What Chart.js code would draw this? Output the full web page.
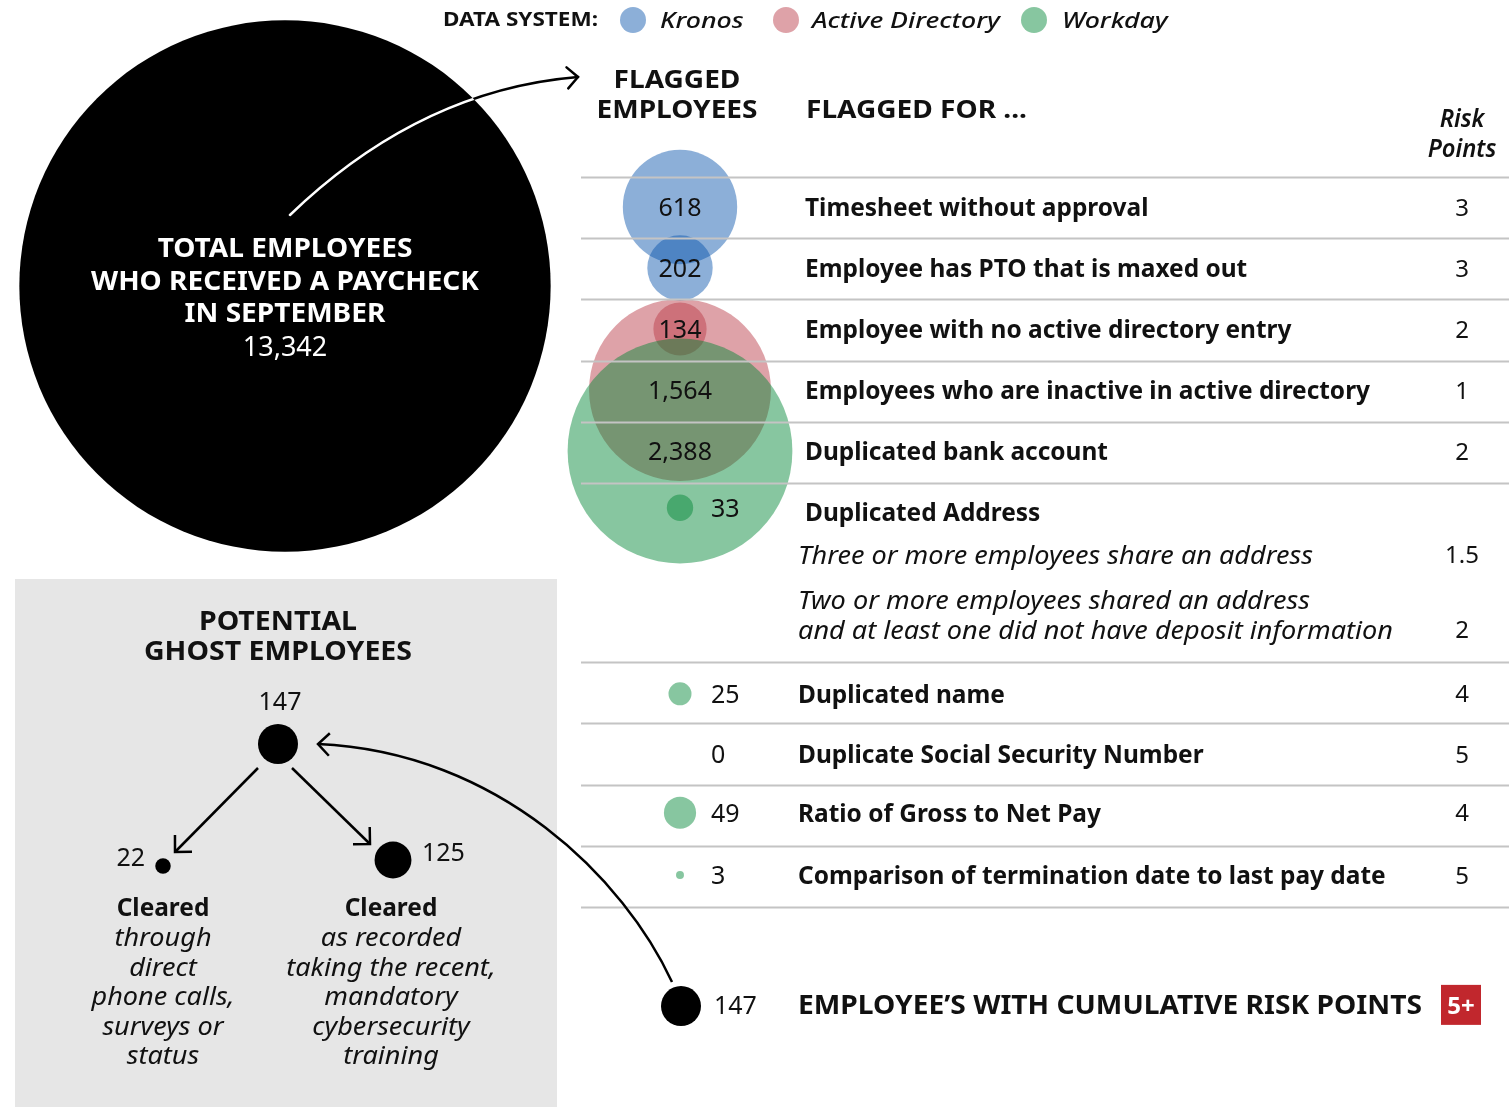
<!DOCTYPE html>
<html>
<head>
<meta charset="utf-8">
<script src="https://cdn.jsdelivr.net/npm/chart.js@4.4.1/dist/chart.umd.min.js"></script>
<style>
  html, body { margin: 0; padding: 0; background: #fff; }
  #wrap { width: 1509px; height: 1107px; position: relative; }
</style>
</head>
<body>
<div id="wrap"><canvas id="chart"></canvas></div>
<script>
// ---- data ----
const systems = ['Kronos', 'Active Directory', 'Workday'];
const flagCategories = [
  'Timesheet without approval',
  'Employee has PTO that is maxed out',
  'Employee with no active directory entry',
  'Employees who are inactive in active directory',
  'Duplicated bank account',
  'Duplicated Address',
  'Duplicated name',
  'Duplicate Social Security Number',
  'Ratio of Gross to Net Pay',
  'Comparison of termination date to last pay date'
];
const flagCounts = [618, 202, 134, 1564, 2388, 33, 25, 0, 49, 3];
const flagSystems = ['Kronos', 'Kronos', 'Active Directory', 'Active Directory', 'Workday', 'Workday', 'Workday', 'Workday', 'Workday', 'Workday'];
const riskPoints = [3, 3, 2, 1, 2, null, 4, 5, 4, 5];
const addressRules = [
  ['Three or more employees share an address'],
  ['Two or more employees shared an address', 'and at least one did not have deposit information']
];
const addressPoints = [1.5, 2];
const totalEmployees = 13342;
const totalLabel = ['TOTAL EMPLOYEES', 'WHO RECEIVED A PAYCHECK', 'IN SEPTEMBER'];
const ghostTotal = 147;
const ghostCleared = [22, 125];
const ghostNotes = [
  ['through', 'direct', 'phone calls,', 'surveys or', 'status'],
  ['as recorded', 'taking the recent,', 'mandatory', 'cybersecurity', 'training']
];
const cumulativeCount = 147;
const cumulativeLabel = 'EMPLOYEE\u2019S WITH CUMULATIVE RISK POINTS';
const cumulativeThreshold = '5+';

// ---- layout / style ----
const SANS = '"Noto Sans", "Open Sans", sans-serif';
const colors = {
  'Kronos': 'rgba(5, 80, 170, 0.46)',
  'Active Directory': 'rgba(185, 57, 70, 0.47)',
  'Workday': 'rgba(0, 134, 53, 0.47)'
};
const ROW_Y = [0, 1, 2, 3, 4, 4.93, 7.98, 8.97, 9.93, 10.95];
const SUB_Y = [[5.7], [6.44, 6.93]];
const RULE_Y = [-0.49, 0.51, 1.51, 2.52, 3.52, 4.52, 7.46, 8.46, 9.48, 10.48, 11.48];
const CUM_Y = 13.1;
const BUBBLE_X = 680;
const AREA_K = 2.3;    // px per sqrt(employee), flag bubbles
const GHOST_K = 1.65;  // px per sqrt(employee), black dots
const rad = (v, k) => k * Math.sqrt(v);

// bubbles from data
const systemSets = systems.map((s, si) => ({
  label: s,
  data: flagCounts.map((v, i) => ({ v, i }))
    .filter(d => flagSystems[d.i] === s && d.v > 0)
    .map(d => ({ x: BUBBLE_X, y: ROW_Y[d.i], r: rad(d.v, AREA_K) })),
  backgroundColor: colors[s],
  borderWidth: 0,
  yAxisID: 'y',
  order: 3 - si
}));

const ghostPos = [[278, 744], [163, 866], [393, 860]];
const ghostValues = [ghostTotal].concat(ghostCleared);

function txt(ctx, s, x, y, font, size, opts) {
  opts = opts || {};
  ctx.save();
  ctx.font = font;
  ctx.fillStyle = opts.color || '#111';
  ctx.textBaseline = 'alphabetic';
  ctx.textAlign = 'left';
  const sx = opts.sx || 1;
  const w = ctx.measureText(s).width * sx;
  let left = x;
  if (opts.align === 'center') left = x - w / 2;
  else if (opts.align === 'right') left = x - w;
  ctx.translate(left, y + size * 0.36);
  ctx.scale(sx, 1);
  ctx.fillText(s, 0, 0);
  ctx.restore();
}
function fit(ctx, font, sample, target) {
  ctx.save(); ctx.font = font;
  const w = ctx.measureText(sample).width;
  ctx.restore();
  return target / w;
}
function chevron(ctx, x, y, ang, len) {
  ctx.beginPath();
  ctx.moveTo(x + Math.cos(ang + 2.36) * len, y + Math.sin(ang + 2.36) * len);
  ctx.lineTo(x, y);
  ctx.lineTo(x + Math.cos(ang - 2.36) * len, y + Math.sin(ang - 2.36) * len);
  ctx.stroke();
}

const drawing = {
  id: 'drawing',
  beforeDatasetsDraw(chart) {
    const ctx = chart.ctx, X = v => chart.scales.x.getPixelForValue(v), P = v => chart.scales.yp.getPixelForValue(v);
    ctx.save();
    ctx.fillStyle = '#e6e6e6';
    ctx.fillRect(X(15), P(579), X(557) - X(15), P(1107) - P(579));
    ctx.restore();
  },
  afterDatasetsDraw(chart) {
    const ctx = chart.ctx;
    const X = v => chart.scales.x.getPixelForValue(v);
    const P = v => chart.scales.yp.getPixelForValue(v);
    const Y = v => chart.scales.y.getPixelForValue(v);

    const fLegB = 'bold 19px ' + SANS, fLegI = 'italic 500 22px ' + SANS;
    const fHead = 'bold 25px ' + SANS, fCaps = 'bold 26px ' + SANS;
    const fRow = 'bold 25px ' + SANS, fIt = 'italic 25px ' + SANS;
    const fNum = '25px ' + SANS, fRisk = '24px ' + SANS;
    const sLegB = fit(ctx, fLegB, 'DATA SYSTEM:', 155);
    const sLegI = fit(ctx, fLegI, 'Active Directory', 188);
    const sHead = fit(ctx, fHead, 'EMPLOYEES', 161);
    const sCaps = fit(ctx, fCaps, totalLabel[1], 388);
    const sGhost = fit(ctx, fCaps, 'GHOST EMPLOYEES', 268);
    const sRow = fit(ctx, fRow, flagCategories[3], 565);
    const sIt = fit(ctx, fIt, addressRules[1][1], 595);
    const sCum = fit(ctx, fCaps, cumulativeLabel, 624);

    // legend
    txt(ctx, 'DATA SYSTEM:', X(443), P(19), fLegB, 19, { sx: sLegB });
    const legX = [[633, 660], [786, 812], [1034, 1062]];
    systems.forEach((s, i) => {
      ctx.beginPath();
      ctx.arc(X(legX[i][0]), P(20), 13, 0, Math.PI * 2);
      ctx.fillStyle = colors[s];
      ctx.fill();
      txt(ctx, s, X(legX[i][1]), P(20), fLegI, 22, { sx: sLegI });
    });

    // headers
    txt(ctx, 'FLAGGED', X(677), P(79), fHead, 25, { sx: sHead, align: 'center' });
    txt(ctx, 'EMPLOYEES', X(677), P(109), fHead, 25, { sx: sHead, align: 'center' });
    txt(ctx, 'FLAGGED FOR ...', X(806), P(109), fHead, 25, { sx: sHead });
    const fRiskH = 'italic 600 25px ' + SANS;
    txt(ctx, 'Risk', X(1462), P(118), fRiskH, 25, { align: 'center', sx: 0.95 });
    txt(ctx, 'Points', X(1462), P(148), fRiskH, 25, { align: 'center', sx: 0.95 });

    // row rules
    ctx.save();
    ctx.strokeStyle = '#c4c4c4';
    ctx.lineWidth = 2;
    RULE_Y.forEach(r => {
      ctx.beginPath();
      ctx.moveTo(X(581), Math.round(Y(r)) + 0.5);
      ctx.lineTo(X(1509), Math.round(Y(r)) + 0.5);
      ctx.stroke();
    });
    ctx.restore();

    // rows
    flagCategories.forEach((c, i) => {
      const y = Y(ROW_Y[i]);
      const v = flagCounts[i];
      const r = rad(v, AREA_K);
      const label = v.toLocaleString('en-US');
      if (r > 20) txt(ctx, label, X(BUBBLE_X), y, fNum, 25, { align: 'center' });
      else txt(ctx, label, X(711), y, fNum, 25);
      const ly = i === 5 ? Y(5) : y;
      txt(ctx, c, X(i < 6 ? 805 : 798), ly, fRow, 25, { sx: sRow });
      if (riskPoints[i] !== null) txt(ctx, String(riskPoints[i]), X(1462), ly, fRisk, 24, { align: 'center' });
    });
    addressRules.forEach((lines, j) => {
      lines.forEach((l, k) => txt(ctx, l, X(798), Y(SUB_Y[j][k]), fIt, 25, { sx: sIt }));
      txt(ctx, String(addressPoints[j]), X(1462), Y(SUB_Y[j][SUB_Y[j].length - 1]), fRisk, 24, { align: 'center' });
    });

    // cumulative row
    txt(ctx, String(cumulativeCount), X(714), Y(13.08), fNum, 25);
    txt(ctx, cumulativeLabel, X(798), Y(13.08), fCaps, 26, { sx: sCum });
    ctx.fillStyle = '#c1272d';
    ctx.fillRect(X(1441), Y(13.08) - 20, 40, 40);
    txt(ctx, cumulativeThreshold, X(1461), Y(13.08), 'bold 24px ' + SANS, 24, { align: 'center', color: '#fff' });

    // total circle text
    const tc = X(285);
    totalLabel.forEach((l, i) => txt(ctx, l, tc, P(248 + i * 32.5), fCaps, 26, { sx: sCaps, align: 'center', color: '#fff' }));
    txt(ctx, totalEmployees.toLocaleString('en-US'), tc, P(346), '27px ' + SANS, 27, { align: 'center', color: '#fff' });

    // arrow from total circle to the flagged column
    ctx.save();
    ctx.lineWidth = 2.5;
    ctx.lineCap = 'round';
    const arc = () => { ctx.beginPath(); ctx.moveTo(X(290), P(215)); ctx.quadraticCurveTo(X(420), P(90), X(578), P(77)); };
    ctx.strokeStyle = '#000'; arc(); ctx.stroke();
    chevron(ctx, X(578), P(77), Math.atan2(P(77) - P(90), X(578) - X(420)), 15);
    ctx.beginPath(); ctx.arc(X(285), P(286), rad(totalEmployees, AREA_K), 0, Math.PI * 2); ctx.clip();
    ctx.strokeStyle = '#fff'; arc(); ctx.stroke();
    ctx.restore();

    // ghost tree
    txt(ctx, 'POTENTIAL', X(278), P(621), fCaps, 26, { sx: sGhost, align: 'center' });
    txt(ctx, 'GHOST EMPLOYEES', X(278), P(651), fCaps, 26, { sx: sGhost, align: 'center' });
    txt(ctx, String(ghostTotal), X(280), P(701), fNum, 25, { align: 'center' });
    txt(ctx, String(ghostCleared[0]), X(145), P(857), fNum, 25, { align: 'right' });
    txt(ctx, String(ghostCleared[1]), X(422), P(852), fNum, 25);
    ctx.save();
    ctx.lineWidth = 2.5;
    ctx.strokeStyle = '#000';
    [[258, 768, 175, 852], [292, 768, 370, 844]].forEach(a => {
      ctx.beginPath(); ctx.moveTo(X(a[0]), P(a[1])); ctx.lineTo(X(a[2]), P(a[3])); ctx.stroke();
      chevron(ctx, X(a[2]), P(a[3]), Math.atan2(P(a[3]) - P(a[1]), X(a[2]) - X(a[0])), 17);
    });
    // curve from cumulative dot back to ghost total
    ctx.beginPath();
    ctx.moveTo(X(672), P(982));
    ctx.bezierCurveTo(X(625), P(880), X(500), P(752), X(318), P(744));
    ctx.stroke();
    chevron(ctx, X(318), P(744), Math.atan2(P(744) - P(752), X(318) - X(500)), 16);
    ctx.restore();

    const noteX = [163, 391];
    ghostNotes.forEach((lines, j) => {
      txt(ctx, 'Cleared', X(noteX[j]), P(907), fRow, 25, { sx: sRow, align: 'center' });
      lines.forEach((l, k) => txt(ctx, l, X(noteX[j]), P(937 + k * 29.6), fIt, 25, { sx: sIt, align: 'center' }));
    });
  }
};

new Chart(document.getElementById('chart'), {
  type: 'bubble',
  data: {
    datasets: [
      {
        label: 'Total employees',
        data: [{ x: 285, y: 286, r: rad(totalEmployees, AREA_K) }],
        backgroundColor: '#000', borderWidth: 0, yAxisID: 'yp', order: 10
      },
      ...systemSets,
      {
        label: 'Potential ghost employees',
        data: ghostValues.map((v, i) => ({ x: ghostPos[i][0], y: ghostPos[i][1], r: rad(v, GHOST_K) })),
        backgroundColor: '#000', borderWidth: 0, yAxisID: 'yp', order: 0
      },
      {
        label: 'Cumulative risk',
        data: [{ x: 681, y: CUM_Y, r: rad(cumulativeCount, GHOST_K) }],
        backgroundColor: '#000', borderWidth: 0, yAxisID: 'y', order: 0
      }
    ]
  },
  options: {
    responsive: true,
    maintainAspectRatio: false,
    animation: false,
    events: [],
    layout: { padding: 0, autoPadding: false },
    clip: false,
    plugins: { legend: { display: false }, tooltip: { enabled: false } },
    scales: {
      x: { type: 'linear', min: 0, max: 1509, display: false },
      y: { type: 'linear', min: -207 / 61, max: 900 / 61, reverse: true, display: false },
      yp: { type: 'linear', min: 0, max: 1107, reverse: true, display: false }
    }
  },
  plugins: [drawing]
});
</script>
</body>
</html>
